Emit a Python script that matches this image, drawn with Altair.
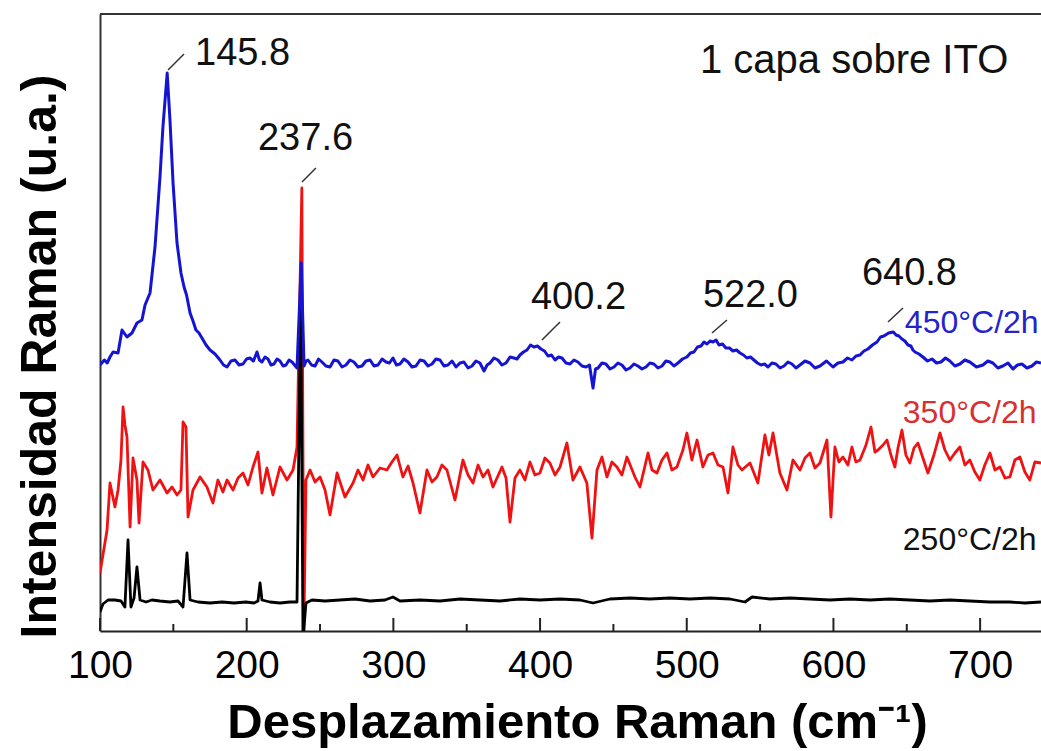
import altair as alt
import pandas as pd

# ---------------- data ----------------
# (Raman shift cm-1, intensity in arbitrary units; spectra are vertically offset)
blue_pts = [
    (100.0, 266), (103.0, 271), (104.9, 268), (106.8, 274), (108.9, 279), (112.3, 278),
    (115.0, 301), (118.4, 294), (121.8, 298), (125.2, 308), (128.6, 311), (130.7, 326),
    (134.1, 338), (137.5, 384), (140.9, 454), (142.9, 504), (145.8, 558), (147.7, 511),
    (149.8, 448), (152.5, 388), (155.2, 358), (157.3, 344), (159.0, 336), (161.4, 318),
    (163.4, 310), (165.4, 301), (167.5, 298), (169.5, 293), (172.3, 286), (175.0, 281),
    (178.4, 277), (181.8, 271), (184.2, 266), (186.6, 264), (189.3, 270), (192.0, 271),
    (194.8, 266), (197.5, 267), (199.9, 272), (202.2, 273), (204.6, 270), (207.0, 279),
    (208.7, 271), (210.4, 269), (212.5, 274), (214.5, 272), (216.6, 266), (218.6, 267),
    (220.7, 272), (222.7, 270), (224.8, 265), (226.8, 266), (228.9, 271), (230.9, 269),
    (232.6, 266), (234.3, 263), (237.2, 368), (239.1, 265), (240.5, 270), (241.8, 271),
    (244.2, 266), (246.6, 265), (249.0, 272), (251.3, 269), (254.0, 265), (256.8, 264),
    (259.5, 271), (262.2, 270), (265.0, 264), (267.7, 266), (270.4, 271), (273.1, 269),
    (275.9, 264), (278.6, 265), (281.3, 270), (284.1, 271), (286.8, 265), (289.5, 266),
    (292.3, 272), (295.0, 269), (297.3, 268), (299.7, 273), (302.1, 266), (304.5, 267),
    (307.2, 272), (310.0, 269), (312.7, 264), (315.4, 265), (318.2, 271), (320.9, 270),
    (323.6, 265), (326.3, 267), (329.0, 272), (331.8, 271), (334.5, 265), (337.2, 266),
    (340.0, 270), (342.7, 264), (345.4, 268), (348.1, 269), (350.9, 263), (353.6, 265),
    (356.3, 270), (359.0, 268), (361.8, 260), (363.9, 266), (365.9, 268), (368.6, 273),
    (371.3, 271), (374.0, 266), (376.8, 268), (379.5, 274), (382.2, 273), (384.3, 272),
    (386.3, 276), (388.7, 279), (391.1, 281), (393.5, 286), (395.8, 284), (398.2, 285),
    (400.6, 282), (403.0, 280), (405.4, 275), (407.8, 276), (410.2, 271), (412.6, 274),
    (414.9, 273), (417.7, 268), (420.4, 267), (423.1, 271), (425.8, 269), (428.6, 265),
    (431.3, 264), (433.7, 266), (436.1, 243), (437.8, 262), (439.5, 263), (442.2, 268),
    (444.9, 267), (447.7, 262), (450.4, 264), (453.1, 268), (455.8, 266), (458.6, 261),
    (461.3, 263), (464.0, 267), (466.7, 265), (469.5, 262), (472.2, 264), (474.9, 268),
    (477.6, 267), (480.4, 263), (483.1, 265), (485.8, 270), (488.5, 269), (491.3, 265),
    (494.0, 268), (497.1, 272), (500.1, 274), (502.5, 278), (504.9, 279), (507.3, 284),
    (509.7, 285), (511.8, 289), (513.8, 287), (515.9, 290), (517.9, 289), (520.0, 291),
    (522.0, 286), (524.4, 287), (526.7, 283), (529.1, 283), (531.5, 280), (533.9, 281),
    (536.3, 278), (538.7, 276), (541.0, 273), (543.4, 274), (545.8, 271), (548.2, 268),
    (550.6, 266), (553.0, 267), (555.4, 264), (558.1, 268), (560.8, 267), (563.6, 263),
    (566.3, 265), (569.0, 269), (571.7, 267), (574.5, 263), (577.2, 266), (580.6, 270),
    (584.0, 268), (587.4, 263), (590.8, 265), (595.3, 270), (599.7, 264), (603.1, 268),
    (606.5, 269), (609.6, 273), (612.6, 271), (615.4, 275), (618.1, 276), (620.8, 280),
    (623.5, 282), (626.6, 286), (629.7, 289), (632.1, 294), (634.4, 295), (637.6, 298),
    (640.8, 299), (642.7, 296), (644.6, 295), (646.7, 292), (648.7, 290), (650.8, 286),
    (652.8, 285), (654.2, 281), (655.6, 279), (658.3, 277), (661.0, 274), (664.1, 270),
    (667.2, 272), (670.3, 268), (673.3, 269), (676.4, 273), (679.4, 270), (682.8, 265),
    (686.2, 267), (689.6, 271), (693.0, 269), (697.5, 264), (701.9, 266), (705.3, 270),
    (708.7, 268), (712.1, 263), (715.5, 265), (719.0, 268), (722.4, 262), (725.5, 266),
    (728.5, 267), (731.9, 263), (735.3, 265), (738.4, 269), (741.5, 268),
]

red_x = [100.0, 102.0, 104.8, 106.8, 110.2, 112.3, 114.3, 115.7, 117.0, 118.4, 120.5, 122.5,
         125.2, 126.6, 129.3, 132.7, 136.1, 140.9, 145.7, 149.1, 152.5, 155.2, 156.6, 158.6,
         160.0, 163.4, 168.2, 172.9, 177.0, 180.4, 183.8, 186.6, 190.7, 194.1, 197.5, 200.9,
         204.3, 207.7, 210.4, 213.8, 217.9, 222.7, 227.5, 231.6, 234.3, 237.6, 238.9, 240.4,
         243.2, 246.6, 250.0, 253.4, 256.8, 261.6, 267.0, 272.5, 275.9, 279.3, 282.7, 286.1,
         290.9, 295.6, 299.0, 302.5, 306.5, 310.0, 313.4, 318.1, 322.9, 326.3, 329.7, 333.1,
         336.5, 342.0, 347.4, 350.9, 354.3, 357.7, 361.1, 364.5, 367.9, 374.0, 376.8, 379.5,
         382.9, 386.3, 389.7, 393.1, 396.5, 399.9, 403.3, 406.7, 410.2, 413.6, 418.3, 422.4,
         427.2, 431.9, 435.4, 438.8, 442.2, 445.6, 449.0, 452.4, 455.8, 459.2, 464.7, 468.1,
         473.6, 476.3, 479.7, 483.1, 486.5, 489.9, 493.3, 497.4, 500.1, 503.5, 507.0, 511.0,
         514.5, 517.9, 521.3, 524.7, 528.1, 531.5, 534.9, 537.6, 543.1, 548.5, 553.3, 556.0,
         558.8, 563.5, 568.3, 572.4, 577.2, 580.6, 584.0, 587.4, 590.8, 595.6, 598.3, 601.0,
         603.7, 606.5, 609.9, 612.6, 615.3, 618.1, 622.2, 625.6, 628.3, 630.4, 633.8, 636.5,
         639.2, 641.9, 644.0, 646.7, 649.4, 652.1, 654.9, 657.6, 661.0, 664.4, 668.5, 672.6,
         676.0, 679.4, 682.8, 686.2, 689.6, 693.0, 696.4, 699.8, 703.2, 706.7, 710.1, 713.5,
         716.9, 720.3, 723.7, 727.1, 730.5, 733.9, 737.3, 741.5]
red_y = [58, 76, 101, 148, 124, 141, 171, 224, 206, 194, 104, 173,
         151, 108, 169, 161, 141, 151, 138, 144, 136, 141, 209, 204,
         114, 141, 154, 144, 128, 151, 139, 151, 141, 153, 158, 146,
         164, 179, 138, 163, 136, 164, 151, 161, 184, 443, -5, 151,
         161, 149, 154, 141, 116, 158, 134, 148, 161, 151, 166, 154,
         163, 161, 169, 176, 154, 165, 148, 118, 161, 149, 154, 166,
         161, 131, 171, 156, 148, 166, 154, 161, 144, 164, 153, 109,
         153, 161, 151, 169, 156, 158, 173, 168, 156, 164, 188, 151,
         164, 148, 93, 161, 174, 154, 169, 164, 156, 174, 154, 144,
         178, 161, 158, 171, 178, 161, 164, 181, 198, 171, 191, 164,
         176, 178, 166, 164, 138, 184, 166, 161, 168, 148, 196, 176,
         198, 158, 141, 171, 161, 173, 178, 163, 168, 191, 114, 184,
         169, 174, 166, 184, 169, 171, 186, 204, 179, 181, 186, 191,
         176, 164, 183, 201, 176, 168, 183, 188, 173, 158, 176, 198,
         181, 171, 178, 184, 166, 171, 159, 151, 166, 178, 161, 164,
         153, 154, 171, 174, 159, 151, 169, 168]

black_x = [100.0, 102.0, 105.5, 110.2, 114.3, 117.0, 119.1, 121.1, 123.2, 125.2, 127.3, 131.4,
           135.4, 140.9, 147.7, 153.2, 156.6, 159.3, 161.4, 166.8, 175.0, 183.2, 191.4, 199.5,
           205.0, 207.7, 209.1, 210.4, 215.9, 222.7, 229.5, 234.3, 236.8, 238.4, 240.4, 244.5,
           253.4, 263.6, 273.8, 284.1, 294.3, 299.7, 304.5, 318.1, 331.8, 345.4, 359.0, 372.7,
           386.3, 399.9, 413.6, 427.2, 436.1, 447.6, 461.3, 474.9, 488.5, 502.2, 515.8, 529.5,
           539.7, 544.5, 556.7, 570.4, 584.0, 597.6, 611.3, 624.9, 638.5, 652.1, 665.8, 679.4,
           693.0, 706.7, 720.3, 730.5, 741.5]
black_y = [19, 27, 31, 31, 30, 24, 91, 24, 33, 64, 31, 29,
           31, 30, 29, 30, 24, 78, 31, 29, 28, 29, 28, 29,
           28, 30, 48, 31, 29, 28, 29, 29, 340, -9, 28, 31,
           30, 31, 32, 30, 31, 34, 30, 31, 30, 32, 31, 30,
           32, 31, 32, 31, 28, 32, 33, 32, 33, 32, 33, 32,
           29, 34, 32, 33, 32, 31, 32, 31, 32, 31, 30, 31,
           30, 29, 29, 28, 29]

x_ticks_major = [100, 200, 300, 400, 500, 600, 700]
x_ticks_minor = [150, 250, 350, 450, 550, 650]

peak_text = ["145.8", "237.6", "400.2", "522.0", "640.8"]
peak_text_x = [164.8, 207.7, 393.8, 511.0, 619.4]
peak_text_y = [566, 481, 322, 324, 346]
lead_x1 = [146.4, 237.7, 401.3, 517.2, 637.2]
lead_y1 = [561, 449, 291, 298, 309]
lead_x2 = [157.3, 247.2, 413.6, 527.4, 647.4]
lead_y2 = [577, 463, 309, 311, 323]

series_text = ["450°C/2h", "350°C/2h", "250°C/2h"]
series_text_x = [648.7, 647.3, 647.3]
series_text_y = [298, 208, 81]
series_text_color = ["#2424c8", "#d83030", "#111111"]

title_text = "1 capa sobre ITO"
title_text_x = [509.0]
title_text_y = [558]

# ---------------- chart ----------------
FONT = "Liberation Sans"
xs = alt.Scale(domain=[100, 741.5], nice=False, zero=False)
ys = alt.Scale(domain=[0, 617], nice=False, zero=False)
W, H = 941, 617

X_AXIS = alt.Axis(
    values=x_ticks_major, ticks=False, grid=False, format="d",
    labelFont=FONT, labelFontSize=39, labelColor="black", labelPadding=15,
    labelOverlap=False, labelFlush=False,
    domainColor="#222222", domainWidth=2,
    title="Desplazamiento Raman (cm⁻¹)", titleFont=FONT, titleFontSize=49,
    titleFontWeight="bold", titleColor="black", titleX=477, titleY=106,
    titleAlign="center", titleBaseline="alphabetic")
Y_AXIS = alt.Axis(
    labels=False, ticks=False, grid=False,
    domainColor="#333333", domainWidth=2,
    title="Intensidad Raman (u.a.)", titleFont=FONT, titleFontSize=50,
    titleFontWeight="bold", titleColor="black", titleAngle=270,
    titleX=-45, titleY=342, titleAlign="center", titleBaseline="alphabetic")


def X(field):
    return alt.X(field, type="quantitative", scale=xs, axis=X_AXIS)


def Y(field):
    return alt.Y(field, type="quantitative", scale=ys, axis=Y_AXIS)


def line_layer(df, color, width):
    return alt.Chart(df).mark_line(color=color, strokeWidth=width, clip=True,
                                   strokeJoin="round").encode(x=X("x"), y=Y("y"))


blue_df = pd.DataFrame(blue_pts, columns=["x", "y"])
red_df = pd.DataFrame({"x": red_x, "y": red_y})
black_df = pd.DataFrame({"x": black_x, "y": black_y})

major_df = pd.DataFrame({"x": x_ticks_major})
minor_df = pd.DataFrame({"x": x_ticks_minor})
major = alt.Chart(major_df).mark_rule(color="#222222", strokeWidth=2).encode(
    x=X("x"), y=alt.value(H), y2=alt.value(H - 13))
minor = alt.Chart(minor_df).mark_rule(color="#222222", strokeWidth=2).encode(
    x=X("x"), y=alt.value(H), y2=alt.value(H - 7))

red = line_layer(red_df, "#f01212", 2.8)
black = line_layer(black_df, "#000000", 2.8)
blue = line_layer(blue_df, "#1414d2", 3.0)

lead_df = pd.DataFrame({"x": lead_x1, "y": lead_y1, "x2": lead_x2, "y2": lead_y2})
leaders = alt.Chart(lead_df).mark_rule(color="#333333", strokeWidth=1.5).encode(
    x=X("x"), y=Y("y"), x2="x2:Q", y2="y2:Q")

peak_df = pd.DataFrame({"x": peak_text_x, "y": peak_text_y, "t": peak_text})
peaks = alt.Chart(peak_df).mark_text(align="left", baseline="alphabetic", font=FONT,
                                     fontSize=38, color="#111111").encode(
    x=X("x"), y=Y("y"), text="t:N")

ser_df = pd.DataFrame({"x": series_text_x, "y": series_text_y, "t": series_text,
                       "c": series_text_color})
sers = alt.Chart(ser_df).mark_text(align="left", baseline="alphabetic", font=FONT,
                                   fontSize=32).encode(
    x=X("x"), y=Y("y"), text="t:N", color=alt.Color("c:N", scale=None))

tt_df = pd.DataFrame({"x": title_text_x, "y": title_text_y, "t": [title_text]})
tt = alt.Chart(tt_df).mark_text(align="left", baseline="alphabetic", font=FONT,
                                fontSize=40, color="#111111").encode(
    x=X("x"), y=Y("y"), text="t:N")

border = alt.Chart(pd.DataFrame({"a": [0]})).mark_rule(color="#333333", strokeWidth=2).encode(
    x=alt.value(0), x2=alt.value(W), y=alt.value(0))

chart = alt.layer(red, black, blue, major, minor, leaders, peaks, sers, tt, border).properties(
    width=W, height=H,
    autosize=alt.AutoSizeParams(type="none"),
    padding={"left": 100, "top": 14, "right": 0, "bottom": 120},
    background="white",
).configure_view(stroke="transparent")

chart.save("out.html", embed_options={"renderer": "svg", "actions": False})
